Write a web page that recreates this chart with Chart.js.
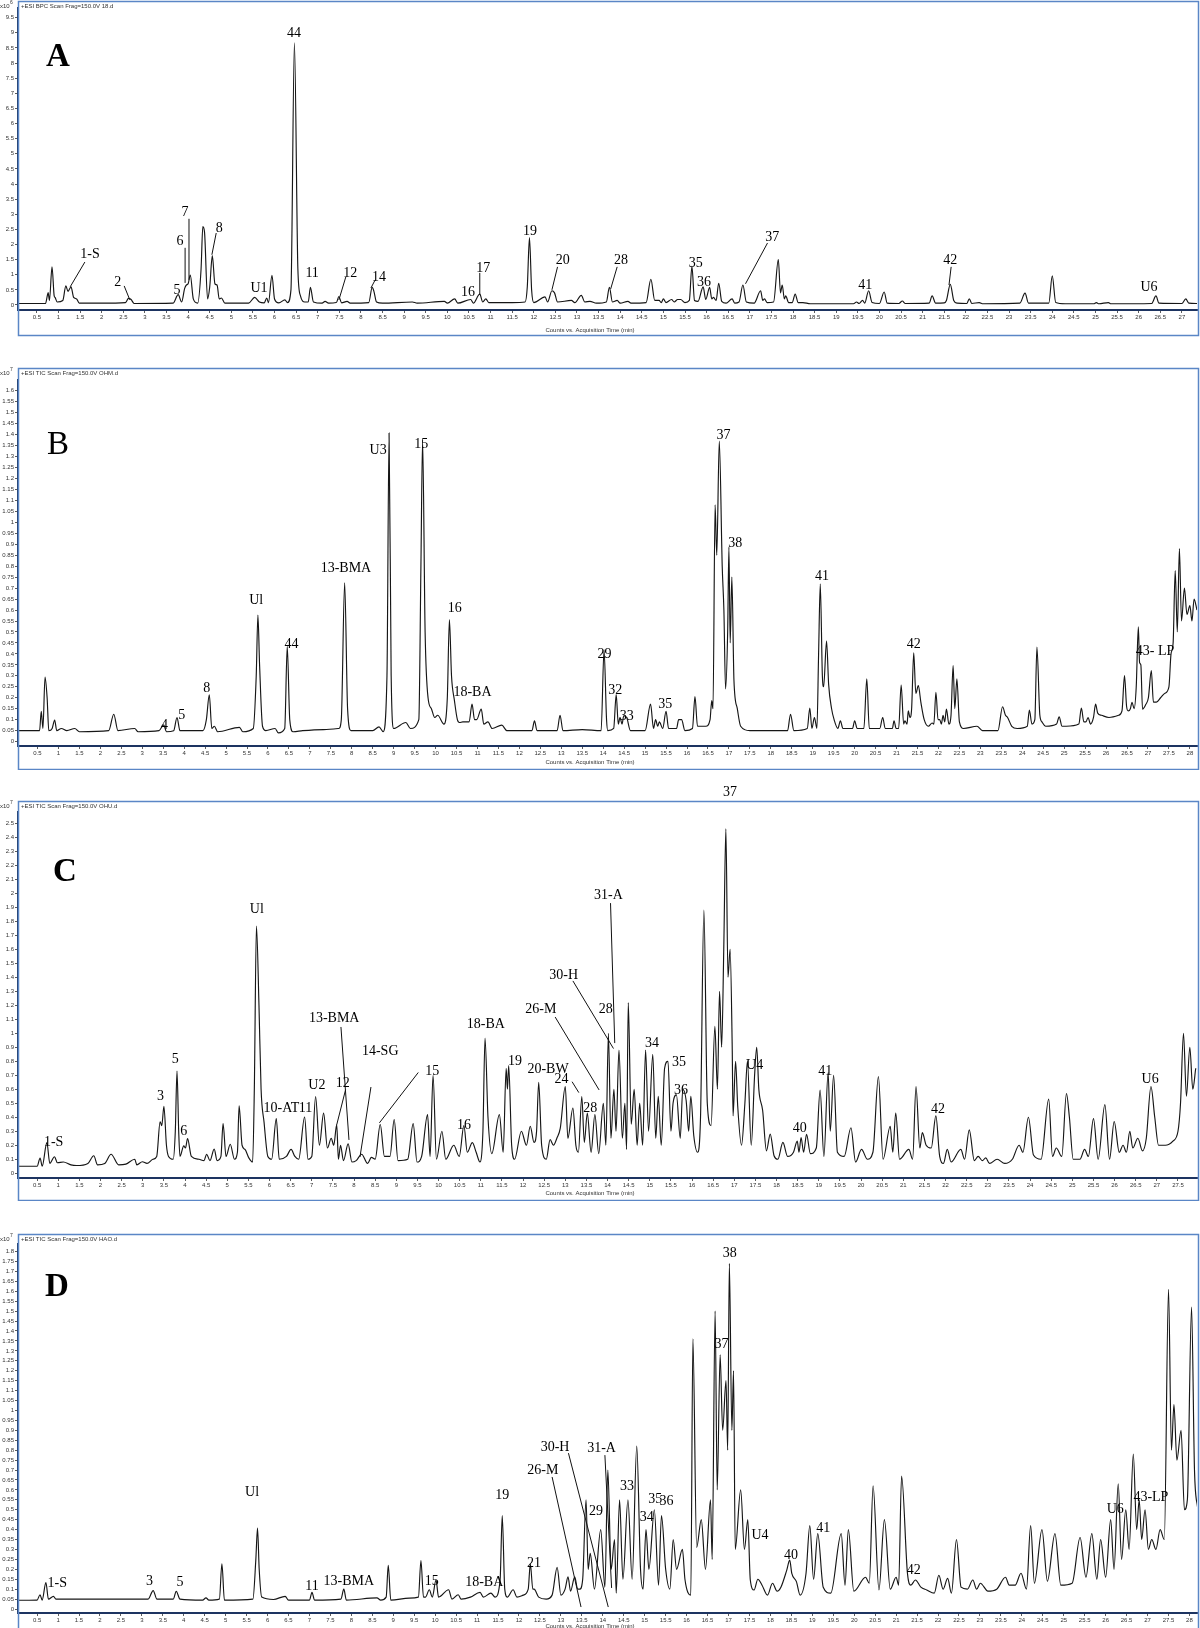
<!DOCTYPE html>
<html>
<head>
<meta charset="utf-8">
<script src="https://cdn.jsdelivr.net/npm/chart.js@4.4.0/dist/chart.umd.min.js"></script>
<style>
    body { margin: 0; background: #fff; width: 1200px; height: 1628px; position: relative; overflow: hidden; }
    canvas { position: absolute; left: 0; }
</style>
</head>
<body>
<canvas id="chartA" width="1200" height="337" style="top:0px"></canvas>
<canvas id="chartB" width="1200" height="404" style="top:366px"></canvas>
<canvas id="chartC" width="1200" height="416" style="top:785px"></canvas>
<canvas id="chartD" width="1200" height="396" style="top:1232px"></canvas>
<script>
// chromatogram traces: [retention time (min), counts]
const traceA = [ // x10^6
    [0.06,0.05],[0.7,0.05],[0.74,0.3],[0.76,0.41],[0.79,0.15],[0.85,1.26],[0.9,0.3],[0.92,0.25],[0.97,0.1],[1.1,0.15],
    [1.17,0.63],[1.22,0.45],[1.29,0.6],[1.35,0.25],[1.42,0.2],[1.48,0.06],[2.0,0.06],[2.55,0.08],[2.62,0.22],[2.68,0.18],
    [2.75,0.05],[3.65,0.06],[3.77,0.34],[3.85,0.1],[3.92,0.55],[3.96,0.66],[4.0,0.7],[4.05,0.99],[4.12,0.2],[4.22,0.06],
    [4.3,1.2],[4.34,2.59],[4.38,2.4],[4.45,0.2],[4.5,0.6],[4.56,1.63],[4.62,0.7],[4.67,0.66],[4.72,0.2],[4.77,0.23],
    [4.85,0.06],[5.4,0.06],[5.54,0.25],[5.65,0.1],[5.76,0.07],[5.82,0.23],[5.86,0.08],[5.94,0.98],[6.0,0.2],[6.1,0.07],
    [6.24,0.17],[6.3,0.08],[6.38,0.5],[6.46,8.67],[6.54,1.2],[6.6,0.3],[6.7,0.1],[6.78,0.1],[6.83,0.58],[6.9,0.1],
    [7.1,0.06],[7.17,0.12],[7.25,0.06],[7.43,0.08],[7.49,0.28],[7.55,0.07],[7.68,0.12],[7.75,0.06],[8.18,0.08],[8.26,0.58],
    [8.3,0.45],[8.36,0.1],[8.5,0.06],[9.19,0.1],[9.3,0.06],[9.93,0.12],[10.0,0.06],[10.17,0.2],[10.24,0.06],[10.54,0.18],
    [10.6,0.06],[10.75,0.36],[10.82,0.1],[10.89,0.2],[10.96,0.08],[11.5,0.08],[11.8,0.1],[11.85,0.6],[11.9,2.23],[11.95,0.5],
    [12.0,0.08],[12.26,0.27],[12.32,0.1],[12.42,0.47],[12.48,0.4],[12.55,0.1],[12.87,0.15],[12.95,0.08],[13.1,0.32],[13.18,0.1],
    [13.3,0.12],[13.45,0.06],[13.68,0.1],[13.75,0.58],[13.82,0.1],[13.93,0.15],[14.0,0.06],[14.18,0.12],[14.25,0.06],[14.6,0.08],
    [14.71,0.85],[14.8,0.15],[14.9,0.15],[14.95,0.08],[15.0,0.2],[15.06,0.08],[15.19,0.18],[15.25,0.1],[15.33,0.18],[15.4,0.18],
    [15.5,0.08],[15.6,0.15],[15.66,1.28],[15.72,0.15],[15.8,0.12],[15.92,0.6],[15.98,0.18],[16.07,0.58],[16.12,0.2],[16.16,0.25],
    [16.22,0.15],[16.28,0.72],[16.35,0.12],[16.45,0.06],[16.59,0.2],[16.65,0.06],[16.75,0.1],[16.84,0.66],[16.92,0.1],[17.1,0.06],
    [17.25,0.47],[17.3,0.15],[17.34,0.2],[17.4,0.08],[17.55,0.1],[17.66,1.5],[17.71,0.4],[17.75,0.66],[17.8,0.2],[17.83,0.3],
    [17.9,0.08],[17.98,0.08],[18.05,0.36],[18.12,0.08],[18.23,0.08],[18.4,0.04],[19.4,0.04],[19.47,0.1],[19.53,0.05],[19.61,0.15],
    [19.66,0.06],[19.75,0.47],[19.83,0.08],[20.0,0.05],[20.11,0.43],[20.18,0.06],[20.45,0.05],[20.53,0.13],[20.6,0.05],[21.15,0.06],
    [21.22,0.3],[21.3,0.06],[21.5,0.07],[21.55,0.15],[21.64,0.68],[21.72,0.15],[21.8,0.06],[22.02,0.05],[22.08,0.2],[22.14,0.05],
    [22.31,0.08],[22.4,0.04],[23.25,0.06],[23.37,0.39],[23.45,0.06],[23.92,0.06],[24.0,0.96],[24.08,0.08],[24.3,0.04],[24.96,0.04],
    [25.02,0.08],[25.08,0.04],[25.3,0.08],[25.36,0.04],[26.3,0.05],[26.4,0.3],[26.47,0.06],[27.0,0.05],[27.09,0.2],[27.16,0.06],
    [27.35,0.05]
];
const traceB = [ // x10^7
    [0.04,0.05],[0.55,0.05],[0.59,0.138],[0.63,0.06],[0.68,0.294],[0.73,0.2],[0.77,0.05],[0.85,0.06],[0.91,0.098],[0.96,0.05],
    [1.07,0.06],[1.2,0.05],[1.39,0.06],[1.5,0.045],[2.2,0.05],[2.32,0.125],[2.42,0.05],[2.82,0.06],[2.9,0.045],[3.4,0.05],
    [3.51,0.076],[3.58,0.045],[3.75,0.05],[3.83,0.11],[3.9,0.05],[4.45,0.05],[4.53,0.1],[4.6,0.213],[4.66,0.06],[4.72,0.07],
    [4.8,0.045],[5.32,0.065],[5.4,0.045],[5.65,0.06],[5.72,0.3],[5.76,0.577],[5.8,0.35],[5.87,0.07],[5.95,0.05],[6.17,0.06],
    [6.25,0.04],[6.4,0.06],[6.46,0.434],[6.52,0.1],[6.6,0.045],[6.83,0.05],[7.33,0.055],[7.69,0.06],[7.75,0.1],[7.83,0.724],
    [7.9,0.15],[7.98,0.05],[8.5,0.05],[8.65,0.067],[8.75,0.045],[8.84,0.3],[8.89,1.407],[8.94,0.3],[9.0,0.06],[9.29,0.087],
    [9.4,0.06],[9.6,0.1],[9.65,0.8],[9.69,1.376],[9.75,0.5],[9.82,0.2],[9.9,0.15],[9.98,0.11],[10.05,0.12],[10.2,0.08],
    [10.28,0.2],[10.33,0.556],[10.38,0.3],[10.45,0.187],[10.52,0.1],[10.57,0.087],[10.65,0.09],[10.8,0.09],[10.87,0.171],[10.93,0.1],
    [10.98,0.1],[11.09,0.148],[11.15,0.08],[11.25,0.09],[11.35,0.06],[11.58,0.075],[11.7,0.05],[12.3,0.05],[12.36,0.095],[12.42,0.05],
    [12.9,0.05],[12.97,0.12],[13.04,0.05],[13.5,0.055],[13.95,0.05],[14.02,0.419],[14.08,0.1],[14.11,0.05],[14.25,0.06],[14.31,0.214],
    [14.36,0.08],[14.4,0.11],[14.45,0.08],[14.49,0.118],[14.56,0.11],[14.65,0.05],[15.0,0.05],[15.13,0.171],[15.2,0.06],[15.25,0.1],
    [15.3,0.07],[15.34,0.09],[15.42,0.06],[15.5,0.138],[15.56,0.06],[15.75,0.06],[15.8,0.1],[15.87,0.1],[15.95,0.05],[16.13,0.06],
    [16.19,0.205],[16.25,0.07],[16.45,0.07],[16.55,0.1],[16.59,0.187],[16.62,0.15],[16.67,1.08],[16.71,0.85],[16.77,1.37],[16.84,0.8],
    [16.88,0.6],[16.92,0.24],[16.97,0.5],[17.0,0.887],[17.03,0.45],[17.07,0.75],[17.12,0.28],[17.2,0.15],[17.28,0.07],[17.5,0.05],
    [18.0,0.05],[18.4,0.05],[18.47,0.125],[18.55,0.05],[18.87,0.06],[18.93,0.153],[18.98,0.06],[19.04,0.11],[19.1,0.06],[19.14,0.4],
    [19.18,0.72],[19.23,0.3],[19.26,0.25],[19.33,0.459],[19.38,0.26],[19.45,0.15],[19.51,0.1],[19.6,0.06],[19.66,0.095],[19.72,0.06],
    [19.95,0.06],[20.0,0.095],[20.06,0.06],[20.22,0.06],[20.29,0.286],[20.35,0.06],[20.6,0.06],[20.67,0.11],[20.73,0.06],[20.9,0.06],
    [20.94,0.095],[20.99,0.06],[21.05,0.06],[21.11,0.258],[21.17,0.08],[21.2,0.095],[21.25,0.08],[21.28,0.14],[21.32,0.11],[21.36,0.15],
    [21.41,0.405],[21.46,0.22],[21.52,0.255],[21.58,0.18],[21.66,0.1],[21.76,0.07],[21.85,0.085],[21.89,0.08],[21.94,0.225],[21.99,0.1],
    [22.03,0.1],[22.07,0.08],[22.11,0.12],[22.15,0.09],[22.19,0.148],[22.25,0.08],[22.3,0.12],[22.35,0.347],[22.39,0.15],[22.44,0.286],
    [22.5,0.09],[22.6,0.06],[22.92,0.07],[23.05,0.05],[23.42,0.05],[23.53,0.159],[23.6,0.12],[23.65,0.11],[23.75,0.07],[23.88,0.06],
    [24.12,0.07],[24.17,0.144],[24.23,0.08],[24.3,0.1],[24.35,0.431],[24.42,0.12],[24.47,0.09],[24.56,0.07],[24.82,0.08],[24.88,0.113],
    [24.95,0.07],[25.05,0.07],[25.35,0.08],[25.41,0.153],[25.47,0.09],[25.52,0.09],[25.57,0.11],[25.63,0.08],[25.7,0.11],[25.75,0.171],
    [25.8,0.13],[25.89,0.12],[26.07,0.11],[26.3,0.12],[26.38,0.14],[26.44,0.301],[26.49,0.16],[26.53,0.14],[26.58,0.15],[26.62,0.179],
    [26.67,0.15],[26.72,0.25],[26.77,0.523],[26.8,0.36],[26.83,0.35],[26.87,0.148],[26.95,0.17],[27.01,0.2],[27.08,0.324],[27.13,0.18],
    [27.2,0.18],[27.3,0.2],[27.4,0.22],[27.5,0.25],[27.55,0.4],[27.6,0.45],[27.65,0.78],[27.7,0.5],[27.75,0.88],[27.8,0.55],
    [27.87,0.7],[27.93,0.58],[28.0,0.62],[28.05,0.55],[28.1,0.65],[28.17,0.6]
];
const traceC = [ // x10^7
    [0.04,0.05],[0.5,0.05],[0.57,0.108],[0.62,0.05],[0.73,0.219],[0.8,0.07],[0.91,0.118],[0.98,0.075],[1.12,0.08],[1.3,0.06],
    [1.43,0.055],[1.7,0.07],[1.84,0.125],[1.93,0.06],[2.1,0.07],[2.25,0.136],[2.43,0.06],[2.6,0.065],[2.81,0.1],[2.86,0.06],
    [2.99,0.082],[3.1,0.07],[3.24,0.1],[3.33,0.12],[3.41,0.367],[3.45,0.34],[3.5,0.478],[3.56,0.2],[3.61,0.12],[3.72,0.1],
    [3.77,0.3],[3.81,0.73],[3.85,0.3],[3.88,0.12],[3.97,0.195],[4.01,0.18],[4.06,0.247],[4.15,0.12],[4.33,0.1],[4.45,0.09],
    [4.51,0.136],[4.59,0.09],[4.69,0.172],[4.76,0.09],[4.85,0.12],[4.9,0.355],[4.97,0.12],[5.07,0.207],[5.17,0.1],[5.24,0.15],
    [5.28,0.482],[5.35,0.2],[5.42,0.17],[5.51,0.11],[5.6,0.08],[5.64,0.6],[5.69,1.766],[5.75,1.2],[5.8,0.6],[5.87,0.365],
    [5.96,0.12],[6.05,0.1],[6.16,0.39],[6.23,0.1],[6.4,0.12],[6.51,0.17],[6.6,0.12],[6.69,0.1],[6.83,0.402],[6.91,0.1],
    [7.0,0.12],[7.09,0.548],[7.18,0.2],[7.28,0.43],[7.37,0.18],[7.46,0.25],[7.52,0.2],[7.59,0.348],[7.63,0.1],[7.68,0.2],
    [7.75,0.09],[7.86,0.21],[7.95,0.08],[8.05,0.09],[8.18,0.136],[8.32,0.07],[8.41,0.113],[8.5,0.1],[8.62,0.348],[8.72,0.12],
    [8.85,0.12],[8.95,0.384],[9.04,0.09],[9.27,0.1],[9.4,0.355],[9.49,0.08],[9.6,0.12],[9.74,0.419],[9.8,0.12],[9.87,0.7],
    [9.95,0.1],[10.08,0.3],[10.17,0.1],[10.36,0.2],[10.49,0.12],[10.6,0.34],[10.68,0.15],[10.8,0.219],[10.89,0.15],[10.98,0.08],
    [11.05,0.3],[11.1,0.965],[11.17,0.4],[11.26,0.14],[11.44,0.419],[11.53,0.15],[11.6,0.75],[11.63,0.6],[11.66,0.77],[11.73,0.2],
    [11.8,0.1],[11.96,0.3],[12.08,0.2],[12.17,0.336],[12.26,0.22],[12.32,0.3],[12.37,0.65],[12.44,0.2],[12.55,0.1],[12.64,0.24],
    [12.72,0.2],[12.8,0.25],[12.88,0.32],[13.0,0.62],[13.06,0.25],[13.18,0.466],[13.25,0.2],[13.31,0.15],[13.39,0.548],[13.45,0.22],
    [13.52,0.43],[13.61,0.15],[13.7,0.42],[13.79,0.14],[13.9,0.5],[13.96,0.2],[14.02,1.0],[14.08,0.25],[14.15,0.6],[14.2,0.3],
    [14.27,0.88],[14.35,0.25],[14.41,0.5],[14.45,0.17],[14.49,1.22],[14.56,0.35],[14.63,0.6],[14.7,0.2],[14.76,0.5],[14.83,0.2],
    [14.9,0.88],[14.97,0.3],[15.07,0.85],[15.14,0.25],[15.2,0.55],[15.27,0.2],[15.35,0.75],[15.43,0.8],[15.5,0.3],[15.55,0.5],
    [15.63,0.56],[15.72,0.25],[15.78,0.6],[15.86,0.52],[15.92,0.3],[15.97,0.55],[16.04,0.27],[16.13,0.15],[16.2,0.4],[16.28,1.88],
    [16.36,0.5],[16.45,0.34],[16.54,1.05],[16.6,0.6],[16.65,1.3],[16.7,0.9],[16.75,1.6],[16.8,2.46],[16.85,1.4],[16.9,1.6],
    [16.95,0.9],[16.97,0.41],[17.03,0.8],[17.08,0.48],[17.17,0.2],[17.25,0.5],[17.31,0.8],[17.4,0.2],[17.48,0.7],[17.53,0.9],
    [17.58,0.6],[17.67,0.45],[17.76,0.16],[17.85,0.28],[17.94,0.125],[18.03,0.1],[18.15,0.22],[18.26,0.12],[18.4,0.15],[18.49,0.23],
    [18.53,0.15],[18.58,0.254],[18.64,0.15],[18.71,0.278],[18.8,0.14],[18.94,0.18],[19.03,0.595],[19.12,0.12],[19.22,0.72],[19.27,0.3],
    [19.35,0.7],[19.44,0.15],[19.6,0.12],[19.76,0.325],[19.87,0.08],[20.01,0.17],[20.15,0.1],[20.28,0.15],[20.41,0.69],[20.52,0.1],
    [20.69,0.336],[20.75,0.15],[20.82,0.43],[20.91,0.1],[21.13,0.17],[21.22,0.1],[21.3,0.62],[21.39,0.18],[21.45,0.29],[21.54,0.2],
    [21.66,0.18],[21.77,0.41],[21.86,0.12],[21.95,0.07],[22.04,0.17],[22.13,0.08],[22.36,0.17],[22.45,0.1],[22.56,0.31],[22.68,0.09],
    [22.77,0.12],[22.87,0.09],[22.95,0.11],[23.04,0.07],[23.22,0.1],[23.4,0.07],[23.58,0.1],[23.74,0.2],[23.83,0.15],[23.96,0.4],
    [24.08,0.13],[24.26,0.1],[24.44,0.53],[24.53,0.12],[24.62,0.18],[24.75,0.12],[24.86,0.57],[24.93,0.4],[25.02,0.1],[25.18,0.1],
    [25.29,0.17],[25.38,0.12],[25.5,0.39],[25.61,0.1],[25.77,0.49],[25.88,0.1],[25.99,0.37],[26.11,0.15],[26.2,0.2],[26.28,0.15],
    [26.36,0.3],[26.43,0.18],[26.55,0.25],[26.66,0.16],[26.75,0.25],[26.86,0.62],[26.95,0.4],[27.04,0.2],[27.2,0.2],[27.38,0.23],
    [27.5,0.3],[27.56,0.5],[27.63,1.0],[27.7,0.55],[27.78,0.9],[27.85,0.6],[27.92,0.75]
];
const traceD = [ // x10^7
    [0.04,0.044],[0.5,0.045],[0.57,0.072],[0.62,0.045],[0.71,0.133],[0.77,0.05],[0.89,0.064],[0.95,0.05],[1.08,0.05],[2.83,0.05],
    [3.15,0.05],[3.27,0.093],[3.36,0.05],[3.75,0.05],[3.82,0.089],[3.91,0.05],[4.45,0.045],[4.53,0.056],[4.6,0.045],[4.85,0.05],
    [4.91,0.228],[4.97,0.045],[5.65,0.05],[5.72,0.25],[5.76,0.408],[5.8,0.2],[5.86,0.06],[6.14,0.048],[6.42,0.064],[6.5,0.045],
    [7.0,0.045],[7.06,0.084],[7.12,0.045],[7.75,0.05],[7.82,0.1],[7.88,0.045],[8.61,0.056],[8.7,0.045],[8.83,0.06],[8.88,0.22],
    [8.94,0.045],[9.38,0.055],[9.6,0.06],[9.66,0.244],[9.72,0.06],[9.77,0.06],[9.86,0.097],[9.93,0.06],[10.02,0.146],[10.08,0.06],
    [10.32,0.097],[10.4,0.05],[10.55,0.072],[10.62,0.05],[10.84,0.06],[11.07,0.084],[11.15,0.06],[11.33,0.08],[11.43,0.06],[11.55,0.15],
    [11.6,0.47],[11.66,0.1],[11.72,0.06],[11.86,0.097],[11.95,0.06],[12.1,0.07],[12.22,0.1],[12.27,0.228],[12.33,0.1],[12.36,0.1],
    [12.47,0.06],[12.65,0.05],[12.79,0.07],[12.91,0.21],[13.0,0.07],[13.1,0.1],[13.17,0.162],[13.23,0.09],[13.33,0.162],[13.4,0.1],
    [13.45,0.1],[13.52,0.15],[13.6,0.55],[13.65,0.2],[13.7,0.28],[13.8,0.1],[13.95,0.4],[14.05,0.11],[14.12,0.7],[14.2,0.2],
    [14.28,0.35],[14.32,0.08],[14.4,0.55],[14.48,0.15],[14.6,0.55],[14.7,0.15],[14.81,0.82],[14.9,0.2],[14.96,0.1],[15.03,0.4],
    [15.1,0.2],[15.23,0.5],[15.33,0.12],[15.4,0.47],[15.5,0.2],[15.6,0.1],[15.68,0.35],[15.76,0.2],[15.9,0.3],[15.96,0.15],
    [16.1,0.07],[16.15,1.36],[16.24,0.31],[16.35,0.45],[16.45,0.2],[16.57,0.55],[16.61,0.25],[16.68,1.5],[16.73,0.6],[16.8,1.28],
    [16.86,0.9],[16.94,1.15],[16.98,0.8],[17.02,1.74],[17.08,0.9],[17.12,1.2],[17.16,0.3],[17.29,0.6],[17.38,0.3],[17.46,0.45],
    [17.52,0.146],[17.61,0.096],[17.7,0.15],[17.8,0.12],[17.93,0.07],[18.05,0.13],[18.16,0.09],[18.25,0.11],[18.39,0.196],[18.46,0.246],
    [18.51,0.18],[18.62,0.138],[18.71,0.07],[18.85,0.18],[18.94,0.42],[19.03,0.15],[19.13,0.38],[19.26,0.11],[19.44,0.08],[19.69,0.38],
    [19.78,0.12],[19.86,0.4],[19.99,0.09],[20.27,0.16],[20.36,0.13],[20.45,0.62],[20.59,0.096],[20.72,0.45],[20.86,0.1],[21.0,0.16],
    [21.06,0.12],[21.13,0.67],[21.27,0.18],[21.35,0.12],[21.46,0.146],[21.59,0.11],[21.73,0.096],[21.91,0.08],[22.02,0.17],[22.12,0.1],
    [22.23,0.154],[22.32,0.08],[22.44,0.35],[22.55,0.11],[22.7,0.1],[22.83,0.146],[22.92,0.1],[23.01,0.13],[23.19,0.09],[23.4,0.1],
    [23.61,0.16],[23.7,0.12],[23.84,0.12],[23.98,0.18],[24.11,0.1],[24.21,0.42],[24.3,0.13],[24.48,0.4],[24.61,0.14],[24.79,0.38],
    [24.93,0.12],[25.2,0.13],[25.39,0.36],[25.53,0.16],[25.67,0.38],[25.79,0.15],[25.88,0.35],[26.0,0.16],[26.12,0.45],[26.2,0.2],
    [26.3,0.63],[26.38,0.25],[26.48,0.5],[26.56,0.3],[26.66,0.78],[26.74,0.4],[26.8,0.55],[26.86,0.35],[26.94,0.5],[27.02,0.3],
    [27.1,0.35],[27.2,0.3],[27.3,0.4],[27.4,0.35],[27.5,1.61],[27.57,0.8],[27.63,1.03],[27.7,0.75],[27.8,0.9],[27.88,0.5],
    [27.95,0.55],[28.05,1.52],[28.12,0.7],[28.2,0.5]
];

// peak labels: [text, time, counts] (centre of the text)
const peakLabelsA = [
    ['44',6.45,8.97],['1-S',1.73,1.66],['2',2.37,0.76],['5',3.74,0.5],['6',3.81,2.09],['7',3.93,3.05],['8',4.72,2.55],
    ['U1',5.64,0.56],['11',6.87,1.06],['12',7.75,1.06],['14',8.42,0.93],['16',10.48,0.43],['17',10.83,1.22],['19',11.91,2.42],
    ['20',12.67,1.46],['28',14.02,1.46],['35',15.75,1.39],['36',15.94,0.76],['37',17.52,2.25],['41',19.67,0.66],
    ['42',21.64,1.46],['U6',26.24,0.6]
];
const peakLabelsB = [
    ['Ul',5.72,0.646],['44',6.56,0.445],['8',4.54,0.244],['5',3.94,0.121],['4',3.53,0.076],['13-BMA',7.86,0.792],
    ['U3',8.63,1.33],['15',9.66,1.357],['16',10.46,0.609],['18-BA',10.88,0.223],['29',14.03,0.4],['32',14.29,0.235],
    ['33',14.56,0.114],['35',15.48,0.171],['37',16.87,1.398],['38',17.15,0.906],['41',19.22,0.755],['42',21.41,0.445],
    ['43- LP',27.17,0.41]
];
const peakLabelsC = [
    ['Ul',5.7,1.886],['1-S',0.89,0.219],['3',3.42,0.552],['5',3.77,0.816],['6',3.97,0.297],['10-AT',6.28,0.464],
    ['11',6.85,0.464],['U2',7.12,0.631],['12',7.73,0.64],['13-BMA',7.53,1.109],['14-SG',8.62,0.87],['15',9.85,0.73],
    ['16',10.6,0.345],['18-BA',11.12,1.063],['19',11.81,0.802],['20-BW',12.59,0.745],['24',12.91,0.669],['28',13.59,0.466],
    ['28',13.96,1.174],['26-M',12.42,1.174],['30-H',12.96,1.416],['31-A',14.02,1.988],['34',15.05,0.93],['35',15.69,0.795],
    ['36',15.74,0.595],['37',16.9,2.72],['U4',17.48,0.774],['40',18.55,0.324],['41',19.15,0.731],['42',21.82,0.459],
    ['U6',26.84,0.669]
];
const peakLabelsD = [
    ['1-S',0.98,0.129],['3',3.18,0.137],['5',3.91,0.132],['Ul',5.63,0.59],['11',7.06,0.112],['13-BMA',7.94,0.137],
    ['15',9.92,0.137],['18-BA',11.17,0.132],['19',11.6,0.575],['21',12.36,0.232],['26-M',12.57,0.7],['30-H',12.86,0.816],
    ['31-A',13.97,0.81],['29',13.84,0.49],['33',14.58,0.62],['34',15.05,0.46],['35',15.25,0.554],['36',15.52,0.544],
    ['37',16.83,1.334],['38',17.03,1.79],['U4',17.75,0.37],['40',18.49,0.272],['41',19.26,0.408],['42',21.42,0.193],
    ['U6',26.23,0.5],['43-LP',27.08,0.564]
];

// leader lines: [time1, counts1, time2, counts2]
const leadersA = [
    [1.61,1.42,1.27,0.6],[2.52,0.63,2.65,0.17],[3.93,1.89,3.93,0.73],[4.02,2.85,4.02,0.83],[4.65,2.38,4.55,1.66],
    [7.65,0.93,7.49,0.17],[8.33,0.83,8.23,0.56],[10.75,1.06,10.75,0.33],[12.55,1.26,12.42,0.5],[13.93,1.26,13.78,0.53],
    [17.41,2.05,16.9,0.7],[21.66,1.26,21.61,0.66]
];
const leadersB = [];
const leadersC = [
    [7.69,1.045,7.88,0.238],[7.8,0.597,7.59,0.346],[8.4,0.616,8.14,0.116],[9.52,0.72,8.6,0.36],[13.16,0.654,13.32,0.576],
    [12.76,1.116,13.8,0.595],[13.18,1.374,14.14,0.891],[14.07,1.93,14.17,0.93]
];
const leadersD = [
    [12.79,0.665,13.48,0.01],[13.18,0.785,14.13,0.01],[14.05,0.775,14.21,0.106]
];

// panel geometry (pixels, in page coordinates)
const panels = [
    { id: 'chartA', trace: traceA, labels: peakLabelsA, leaders: leadersA, canvasTop: 0, padTop: 8, xAxisH: 27,
      frameTop: 1, frameBottom: 335, titleY: 330, xMin: 0.0625, xMax: 27.35, yMin: -0.166, yMax: 9.82, yStep: 0.5,
      exp: '6', header: '+ESI BPC Scan Frag=150.0V 18.d', letter: 'A', bold: true, letterX: 58, letterY: 57 },
    { id: 'chartB', trace: traceB, labels: peakLabelsB, leaders: leadersB, canvasTop: 366, padTop: 14, xAxisH: 24,
      frameTop: 368, frameBottom: 769, titleY: 762, xMin: 0.035, xMax: 28.17, yMin: -0.02, yMax: 1.649, yStep: 0.05,
      exp: '7', header: '+ESI TIC Scan Frag=150.0V OHM.d', letter: 'B', bold: false, letterX: 58, letterY: 445 },
    { id: 'chartC', trace: traceC, labels: peakLabelsC, leaders: leadersC, canvasTop: 785, padTop: 27, xAxisH: 23,
      frameTop: 801, frameBottom: 1200, titleY: 1193, xMin: 0.047, xMax: 27.95, yMin: -0.034, yMax: 2.581, yStep: 0.1,
      exp: '7', header: '+ESI TIC Scan Frag=150.0V OHU.d', letter: 'C', bold: true, letterX: 65, letterY: 872 },
    { id: 'chartD', trace: traceD, labels: peakLabelsD, leaders: leadersD, canvasTop: 1232, padTop: 12, xAxisH: 15,
      frameTop: 1234, frameBottom: 1660, titleY: 1626, xMin: 0.044, xMax: 28.18, yMin: -0.02, yMax: 1.838, yStep: 0.05,
      exp: '7', header: '+ESI TIC Scan Frag=150.0V HAO.d', letter: 'D', bold: true, letterX: 57, letterY: 1287 }
];

const frameColor = '#5a86c6';
const axisColor = '#1d3461';
const tickFont = { family: '"Liberation Sans", Arial', size: 6 };
const fmt = v => String(Math.round(v * 100) / 100);

function decorations(p) {
    return {
        id: 'decorations',
        afterDraw(chart) {
            const { ctx, scales } = chart;
            const top = p.canvasTop;
            const xs = scales.x, ys = scales.y;
            ctx.save();

            // blue frame
            ctx.strokeStyle = frameColor;
            ctx.lineWidth = 1.5;
            ctx.strokeRect(18.5, p.frameTop - top + 0.5, 1180, p.frameBottom - p.frameTop);

            // header and exponent
            ctx.fillStyle = '#333';
            ctx.font = '6px "Liberation Sans", Arial';
            ctx.textBaseline = 'middle';
            ctx.textAlign = 'left';
            ctx.fillText(p.header, 21, p.frameTop - top + 5);
            ctx.fillText('x10', 0, p.frameTop - top + 5);
            ctx.font = '5px "Liberation Sans", Arial';
            ctx.fillText(p.exp, 10, p.frameTop - top + 2);

            // axis title
            ctx.font = '6px "Liberation Sans", Arial';
            ctx.textAlign = 'center';
            ctx.fillText('Counts vs. Acquisition Time (min)', 590, p.titleY - top);

            // panel letter
            ctx.fillStyle = '#000';
            ctx.font = (p.bold ? 'bold ' : '') + '33px "Liberation Serif", "Times New Roman", serif';
            ctx.fillText(p.letter, p.letterX, p.letterY - top);

            // leader lines
            ctx.strokeStyle = '#111';
            ctx.lineWidth = 1;
            p.leaders.forEach(([t1, v1, t2, v2]) => {
                ctx.beginPath();
                ctx.moveTo(xs.getPixelForValue(t1), ys.getPixelForValue(v1));
                ctx.lineTo(xs.getPixelForValue(t2), ys.getPixelForValue(v2));
                ctx.stroke();
            });

            // peak labels
            ctx.font = '14px "Liberation Serif", "Times New Roman", serif';
            p.labels.forEach(([txt, t, v]) => {
                ctx.fillText(txt, xs.getPixelForValue(t), ys.getPixelForValue(v));
            });
            ctx.restore();
        }
    };
}

panels.forEach(p => {
    const ctx = document.getElementById(p.id).getContext('2d');
    new Chart(ctx, {
        type: 'line',
        data: {
            datasets: [{
                data: p.trace.map(([t, v]) => ({ x: t, y: v })),
                borderColor: '#161616',
                borderWidth: 1.15,
                pointRadius: 0,
                cubicInterpolationMode: 'monotone',
                fill: false
            }]
        },
        plugins: [decorations(p)],
        options: {
            responsive: false,
            animation: false,
            layout: { padding: { top: p.padTop, right: 3, left: 0, bottom: 0 } },
            plugins: { legend: { display: false }, tooltip: { enabled: false } },
            scales: {
                x: {
                    type: 'linear',
                    min: p.xMin,
                    max: p.xMax,
                    afterFit: s => { s.height = p.xAxisH; },
                    border: { display: true, color: axisColor, width: 2 },
                    grid: { drawOnChartArea: false, drawTicks: true, tickLength: 3, color: '#333', lineWidth: 0.8 },
                    ticks: {
                        stepSize: 0.5, includeBounds: false, autoSkip: false, maxRotation: 0, maxTicksLimit: 200,
                        padding: 1, color: '#333', font: tickFont, callback: fmt
                    }
                },
                y: {
                    min: p.yMin,
                    max: p.yMax,
                    afterFit: s => { s.width = 18; },
                    border: { display: true, color: axisColor, width: 2 },
                    grid: { drawOnChartArea: false, drawTicks: true, tickLength: 3, color: '#333', lineWidth: 0.8 },
                    ticks: {
                        stepSize: p.yStep, includeBounds: false, autoSkip: false, maxTicksLimit: 200,
                        padding: 1, color: '#333', font: tickFont, callback: fmt
                    }
                }
            }
        }
    });
});
</script>
</body>
</html>
